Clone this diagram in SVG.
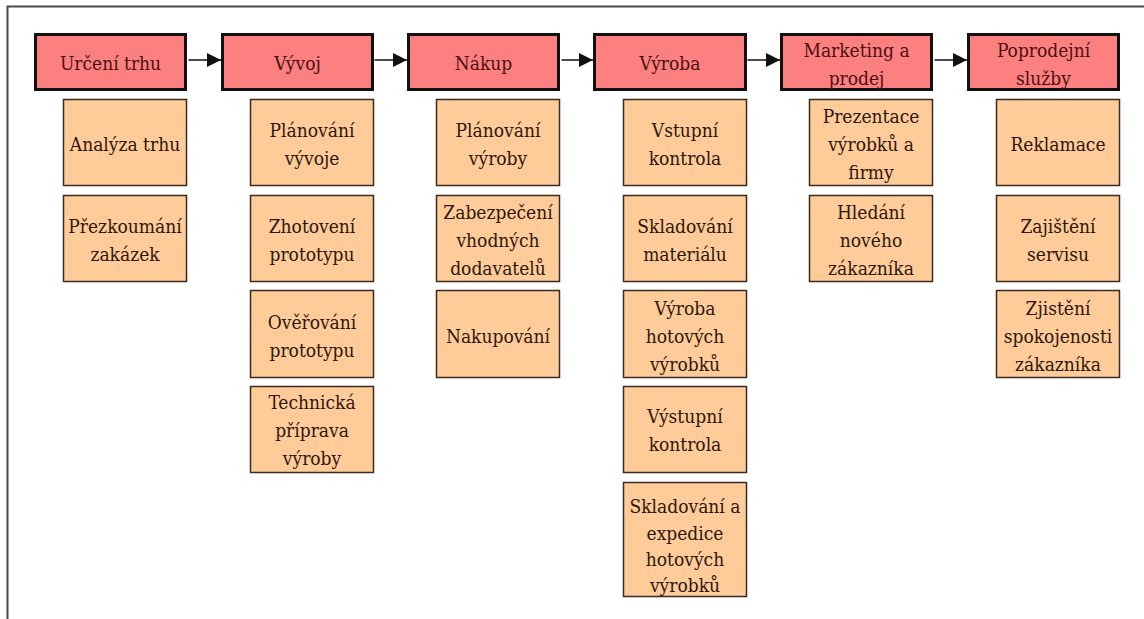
<svg xmlns="http://www.w3.org/2000/svg" width="1144" height="619" viewBox="0 0 1144 619">
  <style>
    .frame { stroke: #4a4a4a; stroke-width: 2; fill: none; }
    .head rect { fill: #FD8080; stroke: #111; stroke-width: 3; }
    .head text { fill: #4a1010; }
    .task rect { fill: #FFCC99; stroke: #3a2a22; stroke-width: 1.5; }
    .task text { fill: #2d160c; }
    .flow line { stroke: #111; stroke-width: 1.5; }
  </style>
  <defs>
    <marker id="arrow" markerUnits="userSpaceOnUse" markerWidth="14" markerHeight="14" refX="14" refY="7" orient="auto">
      <path d="M0,0 L14,7 L0,14 Z" fill="#111"/>
    </marker>
  </defs>

  <rect width="1144" height="619" fill="#ffffff"/>
  <!-- page frame: left and top edges only -->
  <path class="frame" d="M7.5,619 V6.5 H1144"/>

  <!-- flow between the stages -->
  <g id="connectors" class="flow">
    <line x1="188.5" y1="60" x2="221" y2="60" marker-end="url(#arrow)"/>
    <line x1="374.5" y1="60" x2="407" y2="60" marker-end="url(#arrow)"/>
    <line x1="561.5" y1="60" x2="593" y2="60" marker-end="url(#arrow)"/>
    <line x1="747.5" y1="60" x2="780" y2="60" marker-end="url(#arrow)"/>
    <line x1="934.5" y1="60" x2="967" y2="60" marker-end="url(#arrow)"/>
  </g>

  <g id="stages" font-family="DejaVu Serif Condensed, DejaVu Serif, serif" font-stretch="condensed" font-size="19" text-anchor="middle">
  <!-- stage 1 -->
  <g id="urceni-trhu" class="head">
    <rect x="35.5" y="34.5" width="150" height="55"/>
    <text x="110.5" y="70">Určení trhu</text>
  </g>
  <g id="analyza-trhu" class="task">
    <rect x="63.5" y="99.5" width="123" height="86"/>
    <text x="125" y="151">Analýza trhu</text>
  </g>
  <g id="prezkoumani-zakazek" class="task">
    <rect x="63.5" y="195.5" width="123" height="86"/>
    <text x="125" y="233">Přezkoumání</text>
    <text x="125" y="261">zakázek</text>
  </g>

  <!-- stage 2 -->
  <g id="vyvoj" class="head">
    <rect x="222.5" y="34.5" width="150" height="55"/>
    <text x="297.5" y="70">Vývoj</text>
  </g>
  <g id="planovani-vyvoje" class="task">
    <rect x="250.5" y="99.5" width="123" height="86"/>
    <text x="312" y="137">Plánování</text>
    <text x="312" y="165">vývoje</text>
  </g>
  <g id="zhotoveni-prototypu" class="task">
    <rect x="250.5" y="195.5" width="123" height="86"/>
    <text x="312" y="233">Zhotovení</text>
    <text x="312" y="261">prototypu</text>
  </g>
  <g id="overovani-prototypu" class="task">
    <rect x="250.5" y="290.5" width="123" height="87"/>
    <text x="312" y="328.5">Ověřování</text>
    <text x="312" y="356.5">prototypu</text>
  </g>
  <g id="technicka-priprava" class="task">
    <rect x="250.5" y="386.5" width="123" height="86"/>
    <text x="312" y="409">Technická</text>
    <text x="312" y="437">příprava</text>
    <text x="312" y="465">výroby</text>
  </g>

  <!-- stage 3 -->
  <g id="nakup" class="head">
    <rect x="408.5" y="34.5" width="150" height="55"/>
    <text x="483.5" y="70">Nákup</text>
  </g>
  <g id="planovani-vyroby" class="task">
    <rect x="436.5" y="99.5" width="123" height="86"/>
    <text x="498" y="137">Plánování</text>
    <text x="498" y="165">výroby</text>
  </g>
  <g id="zabezpeceni-dodavatelu" class="task">
    <rect x="436.5" y="195.5" width="123" height="86"/>
    <text x="498" y="219">Zabezpečení</text>
    <text x="498" y="247">vhodných</text>
    <text x="498" y="275">dodavatelů</text>
  </g>
  <g id="nakupovani" class="task">
    <rect x="436.5" y="290.5" width="123" height="87"/>
    <text x="498" y="342.5">Nakupování</text>
  </g>

  <!-- stage 4 -->
  <g id="vyroba" class="head">
    <rect x="594.5" y="34.5" width="151" height="55"/>
    <text x="670" y="70">Výroba</text>
  </g>
  <g id="vstupni-kontrola" class="task">
    <rect x="623.5" y="99.5" width="123" height="86"/>
    <text x="685" y="137">Vstupní</text>
    <text x="685" y="165">kontrola</text>
  </g>
  <g id="skladovani-materialu" class="task">
    <rect x="623.5" y="195.5" width="123" height="86"/>
    <text x="685" y="233">Skladování</text>
    <text x="685" y="261">materiálu</text>
  </g>
  <g id="vyroba-hotovych" class="task">
    <rect x="623.5" y="290.5" width="123" height="87"/>
    <text x="685" y="314.5">Výroba</text>
    <text x="685" y="342.5">hotových</text>
    <text x="685" y="370.5">výrobků</text>
  </g>
  <g id="vystupni-kontrola" class="task">
    <rect x="623.5" y="386.5" width="123" height="86"/>
    <text x="685" y="423">Výstupní</text>
    <text x="685" y="451">kontrola</text>
  </g>
  <g id="skladovani-expedice" class="task">
    <rect x="623.5" y="482.5" width="123" height="114"/>
    <text x="685" y="513">Skladování a</text>
    <text x="685" y="539.5">expedice</text>
    <text x="685" y="566">hotových</text>
    <text x="685" y="592">výrobků</text>
  </g>

  <!-- stage 5 -->
  <g id="marketing-prodej" class="head">
    <rect x="781.5" y="34.5" width="150" height="55"/>
    <text x="856.5" y="57">Marketing a</text>
    <text x="856.5" y="85">prodej</text>
  </g>
  <g id="prezentace" class="task">
    <rect x="809.5" y="99.5" width="123" height="86"/>
    <text x="871" y="123">Prezentace</text>
    <text x="871" y="151">výrobků a</text>
    <text x="871" y="179">firmy</text>
  </g>
  <g id="hledani-zakaznika" class="task">
    <rect x="809.5" y="195.5" width="123" height="86"/>
    <text x="871" y="219">Hledání</text>
    <text x="871" y="247">nového</text>
    <text x="871" y="275">zákazníka</text>
  </g>

  <!-- stage 6 -->
  <g id="poprodejni-sluzby" class="head">
    <rect x="968.5" y="34.5" width="150" height="55"/>
    <text x="1043.5" y="57">Poprodejní</text>
    <text x="1043.5" y="85">služby</text>
  </g>
  <g id="reklamace" class="task">
    <rect x="996.5" y="99.5" width="123" height="86"/>
    <text x="1058" y="151">Reklamace</text>
  </g>
  <g id="zajisteni-servisu" class="task">
    <rect x="996.5" y="195.5" width="123" height="86"/>
    <text x="1058" y="233">Zajištění</text>
    <text x="1058" y="261">servisu</text>
  </g>
  <g id="zjisteni-spokojenosti" class="task">
    <rect x="996.5" y="290.5" width="123" height="87"/>
    <text x="1058" y="314.5">Zjistění</text>
    <text x="1058" y="342.5">spokojenosti</text>
    <text x="1058" y="370.5">zákazníka</text>
  </g>
  </g>
</svg>
